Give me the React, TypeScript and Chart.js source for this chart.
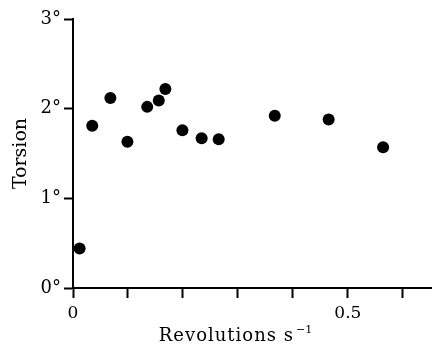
import React, { useEffect, useRef } from "react";
import { Chart, registerables } from "chart.js";

Chart.register(...registerables);

const revolutions = [0.012, 0.035, 0.068, 0.099, 0.135, 0.156, 0.168, 0.199, 0.234, 0.265, 0.367, 0.465, 0.564];
const torsion = [0.44, 1.81, 2.12, 1.63, 2.02, 2.09, 2.22, 1.76, 1.67, 1.66, 1.92, 1.88, 1.57];
const xTickValues = [0, 0.1, 0.2, 0.3, 0.4, 0.5, 0.6];
const xLabelTicks = [0, 0.5];
const yTickValues = [0, 1, 2, 3];

const SERIF = "DejaVu Serif";

const xTitlePlugin = {
  id: "xTitle",
  afterDraw(chart: any) {
    const ctx = chart.ctx;
    ctx.save();
    ctx.fillStyle = "#000";
    ctx.textBaseline = "alphabetic";
    ctx.textAlign = "left";
    const main = "Revolutions s";
    const sup = "\u22121";
    try {
      ctx.letterSpacing = "1px";
    } catch (e) {}
    ctx.font = `18px "${SERIF}"`;
    const wMain = ctx.measureText(main).width;
    try {
      ctx.letterSpacing = "0px";
    } catch (e) {}
    ctx.font = `11px "${SERIF}"`;
    const wSup = ctx.measureText(sup).width;
    const total = wMain + 2 + wSup;
    const cx = 235.5;
    const baseline = 341;
    const x0 = cx - total / 2;
    try {
      ctx.letterSpacing = "1px";
    } catch (e) {}
    ctx.font = `18px "${SERIF}"`;
    ctx.fillText(main, x0, baseline);
    try {
      ctx.letterSpacing = "0px";
    } catch (e) {}
    ctx.font = `11px "${SERIF}"`;
    ctx.fillText(sup, x0 + wMain + 2, baseline - 8);
    ctx.restore();
  },
};

export default function App() {
  const ref = useRef<HTMLCanvasElement>(null);
  useEffect(() => {
    if (!ref.current) return;
    const chart = new Chart(ref.current, {
      type: "scatter",
      data: {
        datasets: [
          {
            data: revolutions.map((x, i) => ({ x, y: torsion[i] })),
            backgroundColor: "#000",
            borderColor: "#000",
            borderWidth: 0,
            pointRadius: 6,
            pointHoverRadius: 6,
          },
        ],
      },
      options: {
        responsive: false,
        animation: false,
        events: [],
        layout: { autoPadding: false, padding: { top: 19, right: 0, left: 0, bottom: 0 } },
        plugins: { legend: { display: false }, tooltip: { enabled: false } },
        scales: {
          x: {
            type: "linear",
            min: 0,
            max: 0.653,
            afterFit: (s: any) => {
              s.height = 58;
            },
            afterBuildTicks: (s: any) => {
              s.ticks = xTickValues.map((v) => ({ value: v }));
            },
            ticks: {
              autoSkip: false,
              maxRotation: 0,
              padding: 5,
              color: "#000",
              font: { family: SERIF, size: 17 },
              callback: (v: any) => {
                const n = Number(v);
                const hit = xLabelTicks.find((t) => Math.abs(t - n) < 1e-9);
                return hit === undefined ? "" : String(hit);
              },
            },
            grid: { drawOnChartArea: false, tickLength: 10, tickWidth: 2, color: "#000" },
            border: { color: "#000", width: 2 },
          },
          y: {
            type: "linear",
            min: 0,
            max: 3,
            afterFit: (s: any) => {
              s.width = 73;
            },
            afterBuildTicks: (s: any) => {
              s.ticks = yTickValues.map((v) => ({ value: v }));
            },
            ticks: {
              padding: 3,
              color: "#000",
              font: { family: SERIF, size: 18 },
              callback: (v: any) => `${v}°`,
            },
            grid: { drawOnChartArea: false, tickLength: 9, tickWidth: 2, color: "#000" },
            border: { color: "#000", width: 2 },
            title: {
              display: true,
              text: "Torsion",
              color: "#000",
              font: { family: SERIF, size: 19 },
              padding: { top: 10, bottom: 0 },
            },
          },
        },
      },
      plugins: [xTitlePlugin],
    });
    return () => chart.destroy();
  }, []);
  return (
    <div style={{ position: "absolute", left: 0, top: 0, width: 432, height: 346, background: "#fff" }}>
      <canvas ref={ref} width={432} height={346} style={{ display: "block" }} />
    </div>
  );
}
